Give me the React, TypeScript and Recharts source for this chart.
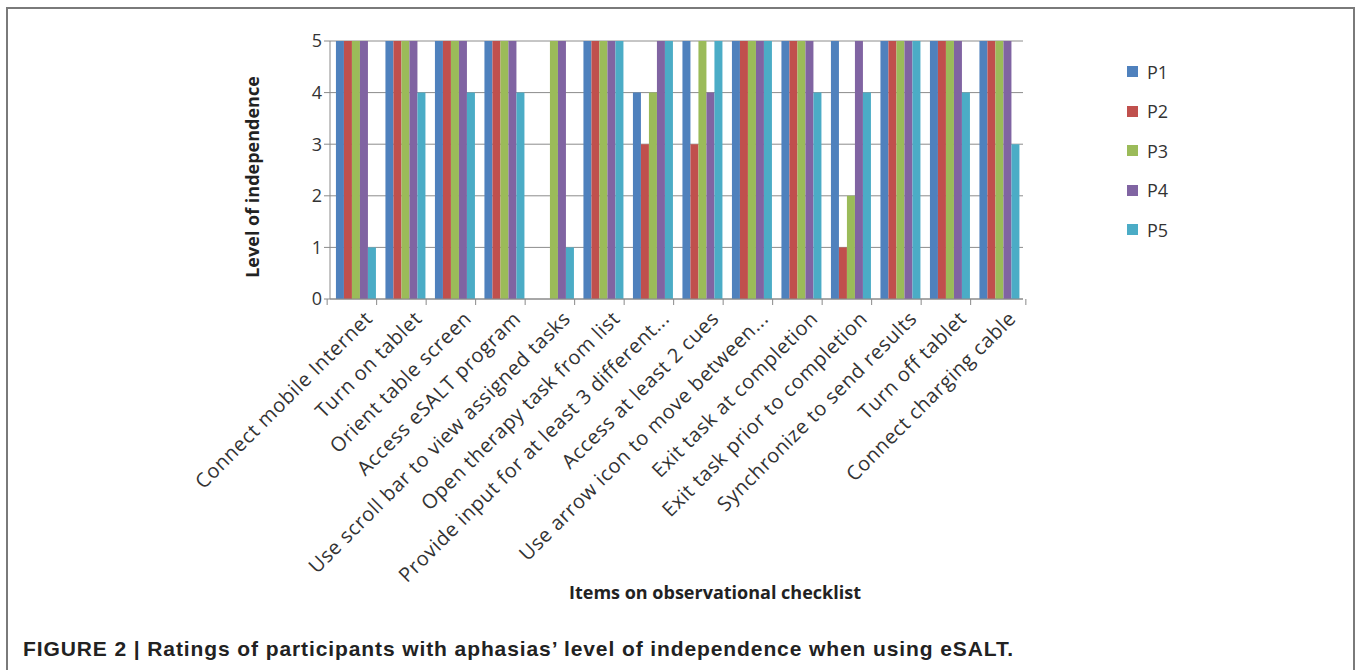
import React from "react";
import { BarChart, Bar, XAxis, YAxis, CartesianGrid, Legend } from "recharts";

const items = [
    "Connect mobile Internet",
    "Turn on tablet",
    "Orient table screen",
    "Access eSALT program",
    "Use scroll bar to view assigned tasks",
    "Open therapy task from list",
    "Provide input for at least 3 different...",
    "Access at least 2 cues",
    "Use arrow icon to move between...",
    "Exit task at completion",
    "Exit task prior to completion",
    "Synchronize to send results",
    "Turn off tablet",
    "Connect charging cable",
];

const p1 = [5, 5, 5, 5, 0, 5, 4, 5, 5, 5, 5, 5, 5, 5];
const p2 = [5, 5, 5, 5, 0, 5, 3, 3, 5, 5, 1, 5, 5, 5];
const p3 = [5, 5, 5, 5, 5, 5, 4, 5, 5, 5, 2, 5, 5, 5];
const p4 = [5, 5, 5, 5, 5, 5, 5, 4, 5, 5, 5, 5, 5, 5];
const p5 = [1, 4, 4, 4, 1, 5, 5, 5, 5, 4, 4, 5, 4, 3];

const yTicks = [0, 1, 2, 3, 4, 5];

const series = [
    { key: "P1", values: p1, color: "#4F81BD" },
    { key: "P2", values: p2, color: "#C0504D" },
    { key: "P3", values: p3, color: "#9BBB59" },
    { key: "P4", values: p4, color: "#8064A2" },
    { key: "P5", values: p5, color: "#4BACC6" },
];

const data = items.map((name, i) => {
    const row: Record<string, string | number> = { name };
    series.forEach((s) => (row[s.key] = s.values[i]));
    return row;
});

const W = 1358;
const H = 670;
const M = { top: 41, right: 255, left: 270, bottom: 91 };
const Y_W = 60;
const BAND = (W - M.left - Y_W - M.right) / items.length;
const FONT = "'Open Sans', sans-serif";
const FRAME = "#7a7a7a";

function CategoryTick(props: any) {
    const { x, y, payload } = props;
    return (
        <g>
            <line x1={x - BAND / 2} y1={y - 8} x2={x - BAND / 2} y2={y - 2} stroke="#8a8a8a" />
            {payload.index === items.length - 1 && (
                <line x1={x + BAND / 2} y1={y - 8} x2={x + BAND / 2} y2={y - 2} stroke="#8a8a8a" />
            )}
            <text
                x={x + 7}
                y={y + 1}
                transform={`rotate(-45 ${x + 7} ${y + 1})`}
                textAnchor="end"
                dominantBaseline="hanging"
                fontSize={20}
                letterSpacing={0.6}
                fontFamily={FONT}
                fill="#333"
            >
                {payload.value}
            </text>
        </g>
    );
}

function LegendBox() {
    return (
        <div style={{ fontFamily: FONT, fontSize: 18, color: "#333" }}>
            {series.map((s) => (
                <div key={s.key} style={{ display: "flex", alignItems: "center", height: 39.5 }}>
                    <span style={{ width: 11, height: 11, background: s.color, marginRight: 9 }} />
                    {s.key}
                </div>
            ))}
        </div>
    );
}

export default function App() {
    return (
        <div style={{ position: "relative", width: W, height: H, background: "#fff", overflow: "hidden" }}>
            <style>{"body { margin: 0; }"}</style>
            <BarChart
                width={W}
                height={H}
                data={data}
                margin={M}
                barGap={0}
                barCategoryGap="12%"
                style={{ position: "absolute", left: 0, top: 0 }}
            >
                <CartesianGrid vertical={false} stroke="#8c8c8c" />
                <XAxis
                    dataKey="name"
                    interval={0}
                    height={280}
                    tick={<CategoryTick />}
                    tickLine={false}
                    axisLine={{ stroke: "#8a8a8a" }}
                />
                <YAxis
                    width={Y_W}
                    domain={[0, 5]}
                    ticks={yTicks}
                    tick={{ fontSize: 18, fill: "#333", fontFamily: FONT }}
                    tickLine={{ stroke: "#8a8a8a" }}
                    axisLine={{ stroke: "#8a8a8a" }}
                />
                <Legend
                    layout="vertical"
                    verticalAlign="top"
                    align="right"
                    content={<LegendBox />}
                    wrapperStyle={{ left: 1127, top: 52, width: 80 }}
                />
                {series.map((s) => (
                    <Bar key={s.key} dataKey={s.key} fill={s.color} isAnimationActive={false} />
                ))}
            </BarChart>
            <div
                style={{
                    position: "absolute",
                    left: 252,
                    top: 177,
                    transform: "translate(-50%, -50%) rotate(-90deg)",
                    fontFamily: FONT,
                    fontWeight: "bold",
                    fontSize: 18,
                    color: "#222",
                    whiteSpace: "nowrap",
                }}
            >
                Level of independence
            </div>
            <div
                style={{
                    position: "absolute",
                    left: 715,
                    top: 592,
                    transform: "translate(-50%, -50%)",
                    fontFamily: FONT,
                    fontWeight: "bold",
                    fontSize: 18,
                    color: "#222",
                    whiteSpace: "nowrap",
                }}
            >
                Items on observational checklist
            </div>
            <div
                style={{
                    position: "absolute",
                    left: 23,
                    top: 637,
                    fontFamily: "'Liberation Sans', Arial, sans-serif",
                    fontWeight: "bold",
                    fontSize: 21,
                    letterSpacing: 0.9,
                    color: "#222",
                    whiteSpace: "nowrap",
                }}
            >
                FIGURE 2 | Ratings of participants with aphasias’ level of independence when using eSALT.
            </div>
            <div
                style={{
                    position: "absolute",
                    left: 6,
                    top: 7,
                    width: 1345,
                    height: 700,
                    borderTop: `2px solid ${FRAME}`,
                    borderLeft: `2px solid ${FRAME}`,
                    borderRight: `2px solid ${FRAME}`,
                    zIndex: 10,
                    pointerEvents: "none",
                }}
            />
        </div>
    );
}
